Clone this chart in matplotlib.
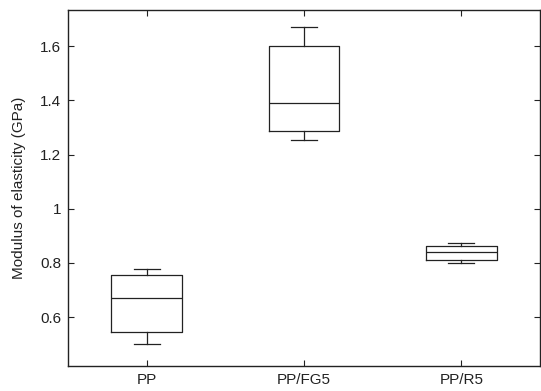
import matplotlib
matplotlib.use("Agg")
from matplotlib import pyplot as plt

plt.rcParams["font.family"] = ["Liberation Sans", "DejaVu Sans"]

# box statistics
labels = ["PP", "PP/FG5", "PP/R5"]
whislo = [0.50, 1.255, 0.80]
q1 = [0.545, 1.285, 0.811]
med = [0.670, 1.39, 0.840]
q3 = [0.756, 1.60, 0.863]
whishi = [0.778, 1.670, 0.874]

stats = []
for i in range(len(labels)):
    stats.append({"label": labels[i], "whislo": whislo[i], "q1": q1[i],
                  "med": med[i], "q3": q3[i], "whishi": whishi[i], "fliers": []})

fig = plt.figure(figsize=(5.41, 3.91), dpi=100)
ax = fig.add_axes([68 / 541, 25 / 391, 472 / 541, 356 / 391])

lc = "#222222"
ax.bxp(stats, widths=0.45, capwidths=0.165, showfliers=False,
       boxprops=dict(color=lc, linewidth=0.9),
       whiskerprops=dict(color=lc, linewidth=0.9),
       capprops=dict(color=lc, linewidth=0.9),
       medianprops=dict(color=lc, linewidth=0.9))

ax.set_xlim(0.5, 3.5)
ax.set_ylim(0.42, 1.733)
ax.set_yticks([0.6, 0.8, 1.0, 1.2, 1.4, 1.6])
ax.set_yticklabels(["0.6", "0.8", "1", "1.2", "1.4", "1.6"])
ax.tick_params(direction="in", top=True, right=True, length=4, labelsize=11,
               colors="#222222", pad=5)
ax.set_ylabel("Modulus of elasticity (GPa)", fontsize=11, color="#222222", labelpad=10)
for s in ax.spines.values():
    s.set_linewidth(1.0)
    s.set_color("#222222")

fig.savefig("out.png", dpi=100)
